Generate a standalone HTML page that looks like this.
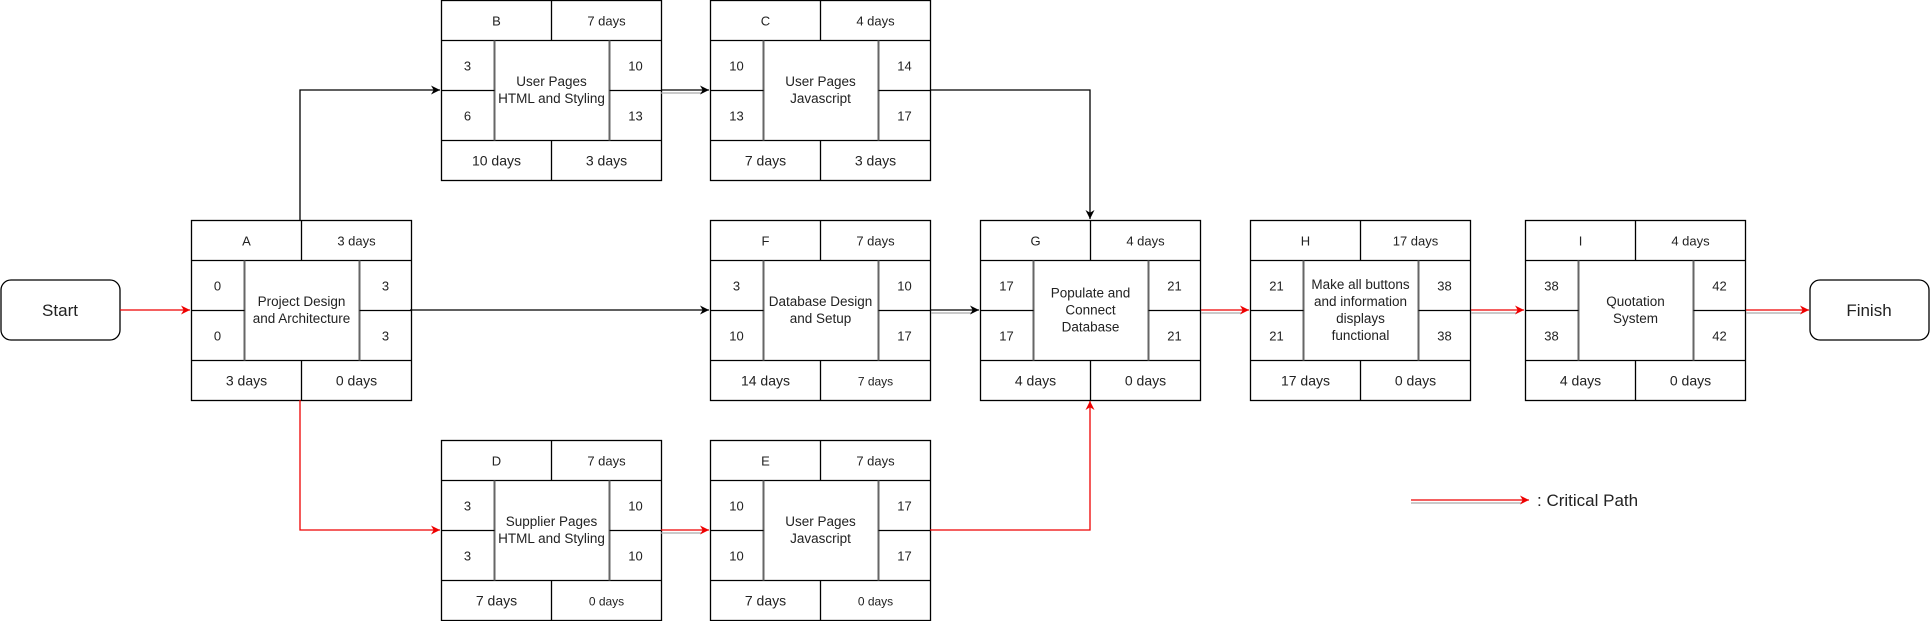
<!DOCTYPE html>
<html><head><meta charset="utf-8"><style>
html,body{margin:0;padding:0;background:#fff;}
svg, svg text{font-family:"Liberation Sans",Arial,sans-serif;}
svg{display:block;}
</style></head><body>
<svg width="1931" height="621" viewBox="0 0 1931 621" xmlns="http://www.w3.org/2000/svg" font-family="Liberation Sans, Arial, sans-serif">
<defs>
<marker id="ab" viewBox="0 0 10 10" refX="10" refY="5" markerWidth="9" markerHeight="9" markerUnits="userSpaceOnUse" orient="auto"><path d="M0,0 L10,5 L0,10 L3,5 z" fill="#000"/></marker>
<marker id="ar" viewBox="0 0 10 10" refX="10" refY="5" markerWidth="9" markerHeight="9" markerUnits="userSpaceOnUse" orient="auto"><path d="M0,0 L10,5 L0,10 L3,5 z" fill="#e00"/></marker>
</defs>
<g id="boxes" fill="none" stroke="#000" stroke-width="1.3"></g>
<g id="txt" fill="#222" text-anchor="middle" font-family="Liberation Sans, Arial, sans-serif"></g>

<rect x="1" y="280" width="119" height="60" rx="10" fill="#fff" stroke="#000" stroke-width="1.3"/>
<text x="60" y="316" font-size="17" text-anchor="middle" fill="#222" font-family="Liberation Sans, Arial, sans-serif">Start</text>
<rect x="1810" y="280" width="119" height="60" rx="10" fill="#fff" stroke="#000" stroke-width="1.3"/>
<text x="1869" y="316" font-size="17" text-anchor="middle" fill="#222" font-family="Liberation Sans, Arial, sans-serif">Finish</text>

<g fill="none" stroke-width="1.3">
<line x1="120" y1="310" x2="190" y2="310" stroke="#e00" marker-end="url(#ar)"/>
<polyline points="300,220 300,90 440,90" stroke="#000" marker-end="url(#ab)"/>
<line x1="410" y1="310" x2="709" y2="310" stroke="#000" marker-end="url(#ab)"/>
<polyline points="300,400 300,530 440,530" stroke="#e00" marker-end="url(#ar)"/>
<polyline points="930,90 1090,90 1090,219" stroke="#000" marker-end="url(#ab)"/>
<polyline points="930,530 1090,530 1090,401" stroke="#e00" marker-end="url(#ar)"/>
<line x1="661" y1="93" x2="702" y2="93" stroke="#aaa"/>
<line x1="661" y1="90" x2="709" y2="90" stroke="#000" marker-end="url(#ab)"/>
<line x1="931" y1="313" x2="972" y2="313" stroke="#aaa"/>
<line x1="931" y1="310" x2="979" y2="310" stroke="#000" marker-end="url(#ab)"/>
<line x1="661" y1="533" x2="702" y2="533" stroke="#aaa"/>
<line x1="661" y1="530" x2="709" y2="530" stroke="#e00" marker-end="url(#ar)"/>
<line x1="1201" y1="313" x2="1242" y2="313" stroke="#aaa"/>
<line x1="1201" y1="310" x2="1249" y2="310" stroke="#e00" marker-end="url(#ar)"/>
<line x1="1471" y1="313" x2="1517" y2="313" stroke="#aaa"/>
<line x1="1471" y1="310" x2="1524" y2="310" stroke="#e00" marker-end="url(#ar)"/>
<line x1="1746" y1="313" x2="1802" y2="313" stroke="#aaa"/>
<line x1="1746" y1="310" x2="1809" y2="310" stroke="#e00" marker-end="url(#ar)"/>
<line x1="1411" y1="503" x2="1522" y2="503" stroke="#aaa"/>
<line x1="1411" y1="500" x2="1529" y2="500" stroke="#e00" marker-end="url(#ar)"/>
</g>
<text x="1537" y="506" font-size="17" fill="#222" font-family="Liberation Sans, Arial, sans-serif">: Critical Path</text>

<script>
var B=[
[191,220,"A","3 days","0","3","0","3",["Project Design","and Architecture"],"3 days","0 days",14,14],
[441,0,"B","7 days","3","10","6","13",["User Pages","HTML and Styling"],"10 days","3 days",14,14],
[710,0,"C","4 days","10","14","13","17",["User Pages","Javascript"],"7 days","3 days",14,14],
[710,220,"F","7 days","3","10","10","17",["Database Design","and Setup"],"14 days","7 days",14,12],
[980,220,"G","4 days","17","21","17","21",["Populate and","Connect","Database"],"4 days","0 days",14,14],
[1250,220,"H","17 days","21","38","21","38",["Make all buttons","and information","displays","functional"],"17 days","0 days",14,14],
[1525,220,"I","4 days","38","42","38","42",["Quotation","System"],"4 days","0 days",14,14],
[441,440,"D","7 days","3","10","3","10",["Supplier Pages","HTML and Styling"],"7 days","0 days",14,12],
[710,440,"E","7 days","10","17","10","17",["User Pages","Javascript"],"7 days","0 days",14,12]
];
var NS="http://www.w3.org/2000/svg",g=document.getElementById("boxes"),t=document.getElementById("txt");
function el(p,n,a,s){var e=document.createElementNS(NS,n);for(var k in a)e.setAttribute(k,a[k]);if(s!=null)e.textContent=s;p.appendChild(e);return e;}
function ln(x1,y1,x2,y2,c,w){el(g,"line",{x1:x1,y1:y1,x2:x2,y2:y2,stroke:c||"#000","stroke-width":w||1.3});}
function tx(x,y,s,f){el(t,"text",{x:x,y:y,"font-size":f,"font-family":"Liberation Sans, Arial, sans-serif"},s);}
B.forEach(function(b){
var x=b[0]+0.5,y=b[1]+0.5,w=220,h=180;
el(g,"rect",{x:x,y:y,width:w,height:h,fill:"#fff"});
ln(x,y+40,x+w,y+40);ln(x,y+140,x+w,y+140);
ln(x+110,y,x+110,y+40);ln(x+110,y+140,x+110,y+180);
ln(x+53,y+40,x+53,y+140,"#666",2);ln(x+168,y+40,x+168,y+140,"#666",2);
ln(x,y+90,x+53,y+90);ln(x+168,y+90,x+w,y+90);
tx(x+55,y+25,b[2],13);tx(x+165,y+25,b[3],13);
tx(x+26,y+70,b[4],13);tx(x+194,y+70,b[5],13);
tx(x+26,y+120,b[6],13);tx(x+194,y+120,b[7],13);
var L=b[8],n=L.length,lh=17,y0=y+90-(n-1)*lh/2+4;
L.forEach(function(s,i){tx(x+110,y0+i*lh,s,13.5);});
tx(x+55,y+165,b[9],b[11]);tx(x+165,y+165,b[10],b[12]);
});
</script>
</svg>
</body></html>
